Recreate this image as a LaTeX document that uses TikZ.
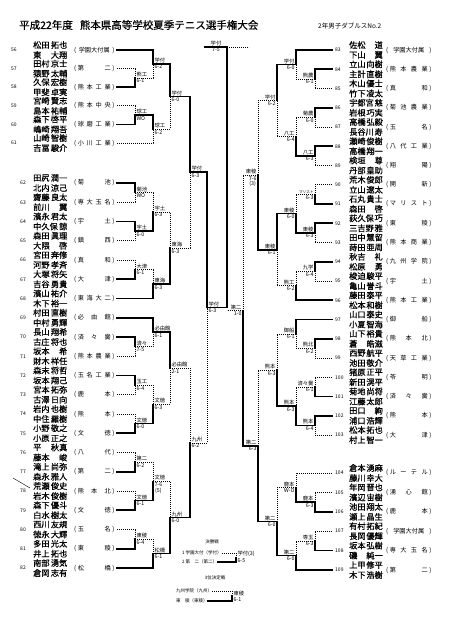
\documentclass[tikz,border=0pt]{standalone}
\usepackage{fontspec}
\setmainfont{Noto Sans CJK JP}
\newfontfamily\nmfont{Noto Sans CJK JP}[FakeBold=0.6]
\usetikzlibrary{calc}
\tikzset{
 win/.style={line width=1.7pt, line cap=rect},
 lose/.style={line width=0.7pt, dash pattern=on 0.9pt off 1.1pt},
 lab/.style={inner sep=0.3pt, align=center, font=\fontsize{5.3}{5.7}\selectfont},
 nm/.style={inner sep=0pt, font=\nmfont\fontsize{8.2}{8.2}\selectfont},
 sch/.style={inner sep=0pt, font=\fontsize{6.2}{6.2}\selectfont},
 num/.style={inner sep=0pt, font=\fontsize{5}{5}\selectfont},
 leg/.style={inner sep=0pt, font=\fontsize{4.5}{4.5}\selectfont},
}
\newcommand\entL[8]{%
 \node[num] (n#1) at (#8,#2) {#1};
 \node[nm,anchor=west] (a#1) at (33,{#2-5}) {#3};
 \node[nm,anchor=east] (b#1) at (67.5,{#2-5}) {#4};
 \node[nm,anchor=west] (c#1) at (33,{#2+5}) {#5};
 \node[nm,anchor=east] (d#1) at (67.5,{#2+5}) {#6};
 \node[sch,anchor=west] (s#1) at (74,#2) {(\hspace{1.5pt}\makebox[33pt][s]{#7}\hspace{1.5pt})};
 \coordinate (e#1) at (117,#2);
}
\newcommand\entR[7]{%
 \node[num,anchor=west] (n#1) at (335,#2) {#1};
 \node[nm,anchor=west] (a#1) at (349,{#2-5}) {#3};
 \node[nm,anchor=east] (b#1) at (383,{#2-5}) {#4};
 \node[nm,anchor=west] (c#1) at (349,{#2+5}) {#5};
 \node[nm,anchor=east] (d#1) at (383,{#2+5}) {#6};
 \node[sch,anchor=west] (s#1) at (386,#2) {(\hspace{1.5pt}\makebox[38pt][s]{#7}\hspace{1.5pt})};
 \coordinate (e#1) at (332,#2);
}
\newcommand\mt[5]{%
 \path let \p1=(#2), \p2=(#3) in coordinate (#1) at (#4pt,{(\y1+\y2)/2});
 \ifnum#5=1 \tikzset{ta/.style=win,tb/.style=lose}\else\tikzset{ta/.style=lose,tb/.style=win}\fi
 \draw[ta] (#2) -| (#1);
 \draw[tb] (#3) -| (#1);
}
\newcommand\mL[7]{%
 \mt{#1}{#2}{#3}{#4}{#5}%
 \node[lab,anchor=south west] (#1w) at ([xshift=1pt,yshift=0.5pt]#1) {#6};
 \node[lab,anchor=north west] (#1s) at ([xshift=1pt,yshift=-0.7pt]#1) {#7};
}
\newcommand\mR[7]{%
 \mt{#1}{#2}{#3}{#4}{#5}%
 \node[lab,anchor=south east] (#1w) at ([xshift=-1pt,yshift=0.5pt]#1) {#6};
 \node[lab,anchor=north east] (#1s) at ([xshift=-1pt,yshift=-0.7pt]#1) {#7};
}
\begin{document}
\begin{tikzpicture}[x=1pt,y=-1pt]
\fill[white] (0,0) rectangle (450,637);
\useasboundingbox (0,0) rectangle (450,637);

\node[anchor=west,inner sep=0pt,font=\nmfont\fontsize{10.5}{10.5}\selectfont] (title) at (19,25) {平成22年度\hspace{7pt}熊本県高等学校夏季テニス選手権大会};
\node[anchor=west,inner sep=0pt,font=\fontsize{6.5}{6.5}\selectfont] (sub) at (318,26) {2年男子ダブルスNo.2};

% left entries
\entL{56}{50}{松田}{拓也}{東}{大翔}{\hfil 学園大付属\hfil}{14}
\entL{57}{68.6}{田村}{京士}{猿野}{太輔}{第 二}{14}
\entL{58}{87.2}{久保}{宏樹}{甲斐}{卓実}{熊 本 工 業}{14}
\entL{59}{105.8}{宮崎}{賢志}{島本}{祐輔}{熊 本 中 央}{14}
\entL{60}{124.4}{森下}{啓平}{嶋崎}{翔吾}{球 磨 工 業}{14}
\entL{61}{143}{山崎}{智樹}{吉冨}{駿介}{小 川 工 業}{14}
\entL{62}{183}{田尻}{潤一}{北内}{涼己}{菊 池}{23}
\entL{63}{202.25}{齋藤}{良太}{前川}{翼}{専 大 玉 名}{23}
\entL{64}{221.5}{濱永}{君太}{中久保}{諒}{宇 土}{23}
\entL{65}{240.75}{森田}{眞理}{大隈}{啓}{鎮 西}{23}
\entL{66}{260}{宮田}{奔修}{河野}{孝斉}{真 和}{23}
\entL{67}{279.25}{大塚}{将矢}{吉谷}{勇貴}{大 津}{23}
\entL{68}{298.5}{濱山}{祐介}{木下}{裕一}{東 海 大 二}{23}
\entL{69}{317.75}{村田}{直樹}{中村}{勇輝}{必 由 館}{23}
\entL{70}{337}{長山}{翔希}{古庄}{将也}{済 々 黌}{23}
\entL{71}{356.25}{坂本}{希}{財木}{祥任}{熊 本 農 業}{23}
\entL{72}{375.5}{森末}{将哲}{坂本}{翔己}{玉 名 工 業}{23}
\entL{73}{394.75}{宮本}{拓弥}{古澤}{日向}{鹿 本}{23}
\entL{74}{414}{岩内}{也樹}{中住}{羅樹}{熊 本}{23}
\entL{75}{433.25}{小野}{敬之}{小原}{正之}{文 徳}{23}
\entL{76}{452.5}{平}{秋真}{藤本}{峻}{八 代}{23}
\entL{77}{471.75}{滝上}{尚弥}{森永}{雅人}{第 二}{23}
\entL{78}{491}{荒瀬}{俊史}{岩木}{俊樹}{熊 本 北}{23}
\entL{79}{510.25}{森下}{優斗}{白水}{樹太}{文 徳}{23}
\entL{80}{529.5}{西川}{友規}{徳永}{大輝}{玉 名}{23}
\entL{81}{548.75}{多田}{光太}{井上}{拓也}{東 稜}{23}
\entL{82}{568}{南部}{湧気}{倉岡}{志有}{松 橋}{23}

% right entries
\entR{83}{50}{佐松}{道}{下山}{翼}{\hfil 学園大付属\hfil}
\entR{84}{69.25}{立山}{向樹}{主計}{直樹}{熊 本 農 業}
\entR{85}{88.5}{木山}{優士}{竹下}{凌太}{真 和}
\entR{86}{107.75}{宇都宮}{慈}{岩根}{巧実}{菊 池 農 業}
\entR{87}{127}{高橋}{弘毅}{長谷川}{寿}{玉 名}
\entR{88}{146.25}{瀬崎}{俊樹}{高橋}{翔一}{八 代 工 業}
\entR{89}{165.5}{検垣}{尊}{丹部}{皇助}{翔 陽}
\entR{90}{184.75}{荒木}{俊郎}{立山}{遼太}{開 新}
\entR{91}{204}{石丸}{貴士}{森田}{啓}{マ リ ス ト}
\entR{92}{223.25}{荻久保}{巧}{三吉野}{雅}{東 稜}
\entR{93}{242.5}{田中}{慧留}{蒔田}{亜周}{熊 本 商 業}
\entR{94}{261.75}{秋吉}{礼}{松原}{勇}{九 州 学 院}
\entR{95}{281}{梭迫}{駿平}{亀山}{誉斗}{宇 土}
\entR{96}{300.25}{藤田}{泰平}{松本}{和樹}{熊 本 工 業}
\entR{97}{319.5}{山口}{泰史}{小夏}{智海}{御 船}
\entR{98}{338.75}{山下}{裕貴}{蒼}{皓滋}{熊 本 北}
\entR{99}{358}{西野}{航平}{池田}{敬介}{天 草 工 業}
\entR{100}{377.25}{猪原}{正平}{新田}{滉平}{苓 明}
\entR{101}{396.5}{菊地}{尚将}{江藤}{太郎}{済 々 黌}
\entR{102}{415.75}{田口}{絢}{浦口}{浩輝}{熊 本}
\entR{103}{435}{松本}{拓也}{村上}{智一}{大 津}
\entR{104}{473}{倉本}{湧麻}{藤川}{幸大}{ル ー テ ル}
\entR{105}{492.4}{年岡}{晋也}{濱辺}{宙樹}{湧 心 館}
\entR{106}{511.8}{池田}{翔太}{瀬上}{晶生}{鹿 本}
\entR{107}{531.2}{有村}{拓紀}{長岡}{優輝}{\hfil 学園大付属\hfil}
\entR{108}{550.6}{坂本}{弘樹}{磯}{純一}{専 大 玉 名}
\entR{109}{570}{上甲}{修平}{木下}{浩樹}{第 二}

% left bracket
\mL{La1}{e57}{e58}{135}{2}{熊工}{6-1}
\mL{La2}{e59}{e60}{135}{2}{球工}{WO}
\mL{La3}{e62}{e63}{135}{1}{菊池}{WO}
\mL{La4}{e64}{e65}{135}{1}{宇土}{6-0}
\mL{La5}{e66}{e67}{135}{2}{大津}{6-1}
\mL{La6}{e70}{e71}{135}{1}{済々}{7-5}
\mL{La7}{e72}{e73}{135}{1}{玉工}{6-4}
\mL{La8}{e74}{e75}{135}{2}{文徳}{6-0}
\mL{La9}{e76}{e77}{135}{2}{第二}{6-2}
\mL{La10}{e78}{e79}{135}{2}{文徳}{6-1}
\mL{La11}{e80}{e81}{135}{2}{東稜}{6-4}
\mL{Lb1}{e56}{La1}{153}{1}{学付}{6-2}
\mL{Lb2}{La2}{e61}{153}{1}{球工}{6-2}
\mL{Lb3}{La3}{La4}{153}{2}{宇土}{6-3}
\mL{Lb4}{La5}{e68}{153}{2}{東海}{6-3}
\mL{Lb5}{e69}{La6}{153}{1}{必由館}{6-1}
\mL{Lb6}{La7}{La8}{153}{2}{文徳}{6-3}
\mL{Lb7}{La9}{La10}{153}{2}{文徳}{7-6\\(5)}
\mL{Lb8}{La11}{e82}{153}{2}{松橋}{6-1}
\mL{Lc1}{Lb1}{Lb2}{170}{1}{学付}{6-0}
\mL{Lc2}{Lb3}{Lb4}{170}{2}{東海}{6-3}
\mL{Lc3}{Lb5}{Lb6}{170}{1}{必由館}{2-1}
\mL{Lc4}{Lb7}{Lb8}{170}{2}{九州}{6-0}
\mL{Ld1}{Lc1}{Lc2}{190}{1}{学付}{6-3}
\mL{Ld2}{Lc3}{Lc4}{190}{2}{九州}{6-2}
\mL{Le}{Ld1}{Ld2}{207}{1}{学付}{6-3}

% right bracket
\mR{Ra1}{e84}{e85}{315}{1}{熊農}{6-1}
\mR{Ra2}{e86}{e87}{315}{1}{菊農}{6-0}
\mR{Ra3}{e88}{e89}{315}{1}{八工}{6-3}
\mR{Ra4}{e90}{e91}{315}{2}{{\fontsize{3.6}{4}\selectfont マリスト}}{6-3}
\mR{Ra5}{e92}{e93}{315}{1}{東稜}{6-3}
\mR{Ra6}{e94}{e95}{315}{1}{九学}{6-4}
\mR{Ra7}{e98}{e99}{315}{1}{熊北}{6-2}
\mR{Ra8}{e100}{e101}{315}{2}{済々黌}{6-1}
\mR{Ra9}{e102}{e103}{315}{1}{熊本}{6-4}
\mR{Ra10}{e105}{e106}{315}{2}{鹿本}{6-3}
\mR{Ra11}{e107}{e108}{315}{2}{専玉}{6-3}
\mR{Rb1}{e83}{Ra1}{296}{1}{学付}{6-0}
\mR{Rb2}{Ra2}{Ra3}{296}{2}{八工}{6-4}
\mR{Rb3}{Ra4}{Ra5}{296}{2}{東稜}{6-0}
\mR{Rb4}{Ra6}{e96}{296}{2}{熊工}{6-2}
\mR{Rb5}{e97}{Ra7}{296}{1}{御船}{6-1}
\mR{Rb6}{Ra8}{Ra9}{296}{2}{熊本}{6-3}
\mR{Rb7}{e104}{Ra10}{296}{2}{鹿本}{W-O}
\mR{Rb8}{Ra11}{e109}{296}{2}{第二}{6-0}
\mR{Rc1}{Rb1}{Rb2}{277}{1}{学付}{6-2}
\mR{Rc2}{Rb3}{Rb4}{277}{1}{東稜}{6-1}
\mR{Rc3}{Rb5}{Rb6}{277}{2}{熊本}{6-3}
\mR{Rc4}{Rb7}{Rb8}{277}{2}{第二}{6-0}
\mR{Rd1}{Rc1}{Rc2}{258}{2}{東稜}{7-6\\(3)}
\mR{Rd2}{Rc3}{Rc4}{258}{2}{第二}{6-3}
\mR{Re}{Rd1}{Rd2}{243}{2}{第二}{1-0}

% final
\coordinate (top) at (227,47);
\coordinate (topL) at (205,47);
\coordinate (topR) at (249,47);
\draw[win] (Le) -| (top);
\draw[lose] (Re) -- (Re -| top);
\draw[win] (top) -- (topL);
\draw[lose] (top) -- (topR);
\node[lab,anchor=south] (fw) at ([yshift=0.5pt]$(topL)!0.5!(top)$) {学付};
\node[lab,anchor=north] (fs) at ([yshift=-0.7pt]$(topL)!0.5!(top)$) {7-5};

% legend
\node[leg] (lg0) at (212,542) {決勝戦};
\node[leg,anchor=west] (lg1) at (182,553) {1 学園大付（学付）};
\node[leg,anchor=west] (lg2) at (182,562) {2 第　二（第二）};
\coordinate (lgx) at (236,557.5);
\draw[lose] (lg1.east) -| (lgx);
\draw[win] (lg2.east) -| (lgx);
\node[lab,anchor=south west] (lg1w) at ([xshift=1pt]lgx) {学付(3)};
\node[lab,anchor=north west] (lg1s) at ([xshift=1pt,yshift=-0.7pt]lgx) {6-5};
\node[leg] (lg3) at (215,578) {3位決定戦};
\node[leg,anchor=west] (lg4) at (176,591) {九州学院（九州）};
\node[leg,anchor=west] (lg5) at (176,601) {東　稜（東稜）};
\coordinate (lgy) at (232,596);
\draw[lose] (lg4.east) -| (lgy);
\draw[win] (lg5.east) -| (lgy);
\node[lab,anchor=south west] (lg5w) at ([xshift=1pt]lgy) {東稜};
\node[lab,anchor=north west] (lg5s) at ([xshift=1pt,yshift=-0.7pt]lgy) {6-1};

\draw[line width=0.4pt] (13,478) -- (30,488);
\end{tikzpicture}
\end{document}
